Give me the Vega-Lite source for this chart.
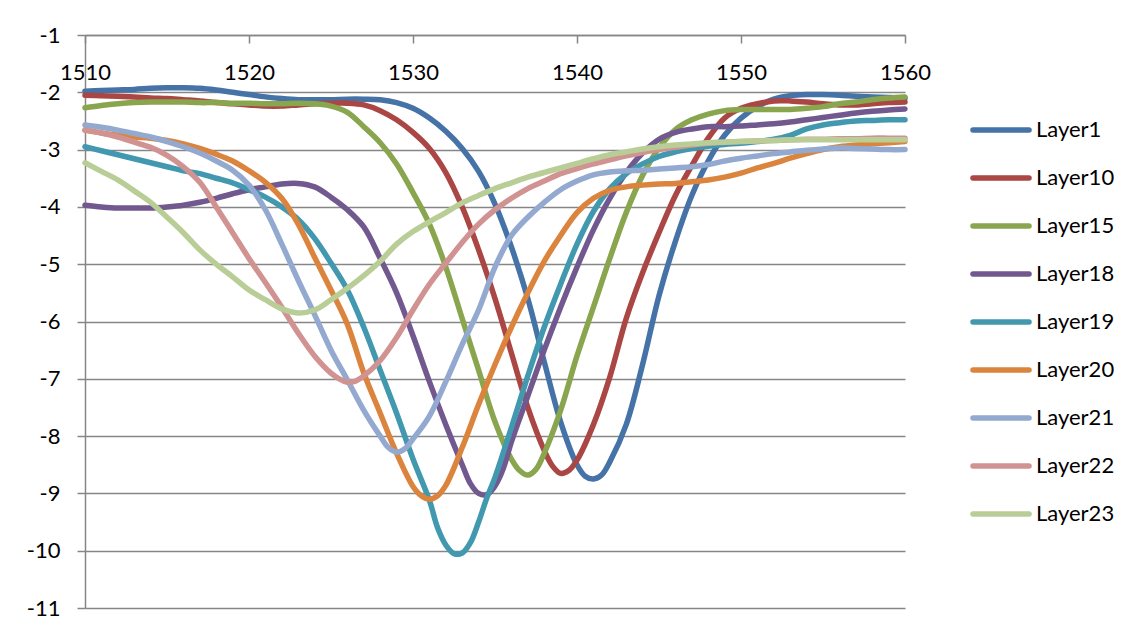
{
  "$schema": "https://vega.github.io/schema/vega-lite/v6.json",
  "width": 820,
  "height": 573,
  "autosize": "none",
  "padding": {"left": 85, "top": 35, "right": 229, "bottom": 26},
  "background": "white",
  "data": {"values": [
    {"w":1510,"Layer1":-1.98,"Layer10":-2.05,"Layer15":-2.27,"Layer18":-3.97,"Layer19":-2.95,"Layer20":-2.66,"Layer21":-2.57,"Layer22":-2.66,"Layer23":-3.23},
    {"w":1511,"Layer1":-1.97,"Layer10":-2.06,"Layer15":-2.23,"Layer18":-4.0,"Layer19":-3.02,"Layer20":-2.71,"Layer21":-2.61,"Layer22":-2.71,"Layer23":-3.38},
    {"w":1512,"Layer1":-1.96,"Layer10":-2.07,"Layer15":-2.2,"Layer18":-4.02,"Layer19":-3.09,"Layer20":-2.75,"Layer21":-2.66,"Layer22":-2.78,"Layer23":-3.53},
    {"w":1513,"Layer1":-1.95,"Layer10":-2.08,"Layer15":-2.18,"Layer18":-4.02,"Layer19":-3.16,"Layer20":-2.78,"Layer21":-2.72,"Layer22":-2.87,"Layer23":-3.72},
    {"w":1514,"Layer1":-1.93,"Layer10":-2.1,"Layer15":-2.17,"Layer18":-4.02,"Layer19":-3.23,"Layer20":-2.8,"Layer21":-2.78,"Layer22":-2.96,"Layer23":-3.92},
    {"w":1515,"Layer1":-1.92,"Layer10":-2.11,"Layer15":-2.17,"Layer18":-4.0,"Layer19":-3.3,"Layer20":-2.84,"Layer21":-2.86,"Layer22":-3.1,"Layer23":-4.18},
    {"w":1516,"Layer1":-1.92,"Layer10":-2.13,"Layer15":-2.17,"Layer18":-3.97,"Layer19":-3.37,"Layer20":-2.9,"Layer21":-2.95,"Layer22":-3.3,"Layer23":-4.45},
    {"w":1517,"Layer1":-1.93,"Layer10":-2.15,"Layer15":-2.18,"Layer18":-3.92,"Layer19":-3.42,"Layer20":-2.98,"Layer21":-3.06,"Layer22":-3.57,"Layer23":-4.75},
    {"w":1518,"Layer1":-1.96,"Layer10":-2.18,"Layer15":-2.18,"Layer18":-3.85,"Layer19":-3.5,"Layer20":-3.08,"Layer21":-3.2,"Layer22":-4.0,"Layer23":-5.0},
    {"w":1519,"Layer1":-2.0,"Layer10":-2.2,"Layer15":-2.19,"Layer18":-3.77,"Layer19":-3.58,"Layer20":-3.2,"Layer21":-3.36,"Layer22":-4.45,"Layer23":-5.22},
    {"w":1520,"Layer1":-2.04,"Layer10":-2.22,"Layer15":-2.19,"Layer18":-3.7,"Layer19":-3.7,"Layer20":-3.37,"Layer21":-3.62,"Layer22":-4.9,"Layer23":-5.45},
    {"w":1521,"Layer1":-2.08,"Layer10":-2.24,"Layer15":-2.2,"Layer18":-3.65,"Layer19":-3.83,"Layer20":-3.57,"Layer21":-4.05,"Layer22":-5.32,"Layer23":-5.62},
    {"w":1522,"Layer1":-2.11,"Layer10":-2.24,"Layer15":-2.2,"Layer18":-3.6,"Layer19":-4.0,"Layer20":-3.85,"Layer21":-4.65,"Layer22":-5.75,"Layer23":-5.78},
    {"w":1523,"Layer1":-2.13,"Layer10":-2.22,"Layer15":-2.19,"Layer18":-3.59,"Layer19":-4.22,"Layer20":-4.3,"Layer21":-5.28,"Layer22":-6.2,"Layer23":-5.85},
    {"w":1524,"Layer1":-2.13,"Layer10":-2.2,"Layer15":-2.2,"Layer18":-3.65,"Layer19":-4.55,"Layer20":-4.88,"Layer21":-5.88,"Layer22":-6.6,"Layer23":-5.8},
    {"w":1525,"Layer1":-2.13,"Layer10":-2.19,"Layer15":-2.24,"Layer18":-3.83,"Layer19":-4.98,"Layer20":-5.45,"Layer21":-6.5,"Layer22":-6.9,"Layer23":-5.62},
    {"w":1525.5,"Layer22":-7.0},
    {"w":1526,"Layer1":-2.12,"Layer10":-2.19,"Layer15":-2.35,"Layer18":-4.05,"Layer19":-5.45,"Layer20":-6.05,"Layer21":-7.02,"Layer22":-7.06,"Layer23":-5.42},
    {"w":1526.5,"Layer22":-7.04},
    {"w":1527,"Layer1":-2.12,"Layer10":-2.22,"Layer15":-2.6,"Layer18":-4.35,"Layer19":-6.1,"Layer20":-6.9,"Layer21":-7.55,"Layer22":-6.95,"Layer23":-5.2},
    {"w":1528,"Layer1":-2.13,"Layer10":-2.32,"Layer15":-2.88,"Layer18":-4.9,"Layer19":-6.85,"Layer20":-7.6,"Layer21":-8.0,"Layer22":-6.68,"Layer23":-4.95},
    {"w":1528.5,"Layer21":-8.2},
    {"w":1529,"Layer1":-2.18,"Layer10":-2.48,"Layer15":-3.25,"Layer18":-5.5,"Layer19":-7.6,"Layer20":-8.3,"Layer21":-8.28,"Layer22":-6.28,"Layer23":-4.65},
    {"w":1529.5,"Layer21":-8.22},
    {"w":1530,"Layer1":-2.28,"Layer10":-2.7,"Layer15":-3.75,"Layer18":-6.25,"Layer19":-8.4,"Layer20":-8.88,"Layer21":-8.05,"Layer22":-5.8,"Layer23":-4.43},
    {"w":1530.5,"Layer20":-9.04},
    {"w":1531,"Layer1":-2.45,"Layer10":-2.98,"Layer15":-4.3,"Layer18":-7.05,"Layer19":-9.12,"Layer20":-9.1,"Layer21":-7.65,"Layer22":-5.35,"Layer23":-4.26},
    {"w":1531.5,"Layer19":-9.6,"Layer20":-9.04},
    {"w":1532,"Layer1":-2.68,"Layer10":-3.4,"Layer15":-5.05,"Layer18":-7.8,"Layer19":-9.9,"Layer20":-8.86,"Layer21":-7.05,"Layer22":-4.98,"Layer23":-4.1},
    {"w":1532.5,"Layer19":-10.05},
    {"w":1533,"Layer1":-2.98,"Layer10":-4.0,"Layer15":-5.95,"Layer18":-8.5,"Layer19":-10.04,"Layer20":-8.2,"Layer21":-6.4,"Layer22":-4.62,"Layer23":-3.93},
    {"w":1533.5,"Layer18":-8.83,"Layer19":-9.86},
    {"w":1534,"Layer1":-3.38,"Layer10":-4.75,"Layer15":-6.85,"Layer18":-9.0,"Layer19":-9.5,"Layer20":-7.45,"Layer21":-5.8,"Layer22":-4.3,"Layer23":-3.8},
    {"w":1534.5,"Layer18":-9.02,"Layer19":-9.08},
    {"w":1535,"Layer1":-3.95,"Layer10":-5.6,"Layer15":-7.75,"Layer18":-8.87,"Layer19":-8.72,"Layer20":-6.75,"Layer21":-5.05,"Layer22":-4.05,"Layer23":-3.68},
    {"w":1535.5,"Layer18":-8.57},
    {"w":1536,"Layer1":-4.7,"Layer10":-6.55,"Layer15":-8.4,"Layer18":-8.1,"Layer19":-7.85,"Layer20":-6.1,"Layer21":-4.5,"Layer22":-3.85,"Layer23":-3.58},
    {"w":1536.5,"Layer15":-8.6},
    {"w":1537,"Layer1":-5.6,"Layer10":-7.5,"Layer15":-8.68,"Layer18":-7.3,"Layer19":-6.95,"Layer20":-5.5,"Layer21":-4.18,"Layer22":-3.68,"Layer23":-3.48},
    {"w":1537.5,"Layer15":-8.58},
    {"w":1538,"Layer1":-6.7,"Layer10":-8.25,"Layer15":-8.3,"Layer18":-6.5,"Layer19":-6.1,"Layer20":-4.95,"Layer21":-3.92,"Layer22":-3.55,"Layer23":-3.4},
    {"w":1538.5,"Layer10":-8.52},
    {"w":1539,"Layer1":-7.75,"Layer10":-8.65,"Layer15":-7.55,"Layer18":-5.75,"Layer19":-5.35,"Layer20":-4.5,"Layer21":-3.7,"Layer22":-3.42,"Layer23":-3.32},
    {"w":1539.5,"Layer10":-8.6},
    {"w":1540,"Layer1":-8.5,"Layer10":-8.42,"Layer15":-6.6,"Layer18":-5.05,"Layer19":-4.65,"Layer20":-4.1,"Layer21":-3.55,"Layer22":-3.33,"Layer23":-3.24},
    {"w":1540.5,"Layer1":-8.7},
    {"w":1541,"Layer1":-8.75,"Layer10":-7.8,"Layer15":-5.75,"Layer18":-4.4,"Layer19":-4.08,"Layer20":-3.85,"Layer21":-3.44,"Layer22":-3.25,"Layer23":-3.16},
    {"w":1541.5,"Layer1":-8.68},
    {"w":1542,"Layer1":-8.45,"Layer10":-6.97,"Layer15":-4.9,"Layer18":-3.85,"Layer19":-3.68,"Layer20":-3.71,"Layer21":-3.39,"Layer22":-3.18,"Layer23":-3.09},
    {"w":1543,"Layer1":-7.8,"Layer10":-5.95,"Layer15":-4.1,"Layer18":-3.4,"Layer19":-3.42,"Layer20":-3.65,"Layer21":-3.37,"Layer22":-3.11,"Layer23":-3.04},
    {"w":1544,"Layer1":-6.75,"Layer10":-5.15,"Layer15":-3.45,"Layer18":-3.06,"Layer19":-3.25,"Layer20":-3.62,"Layer21":-3.36,"Layer22":-3.05,"Layer23":-2.99},
    {"w":1545,"Layer1":-5.55,"Layer10":-4.45,"Layer15":-2.97,"Layer18":-2.82,"Layer19":-3.12,"Layer20":-3.6,"Layer21":-3.34,"Layer22":-3.0,"Layer23":-2.95},
    {"w":1546,"Layer1":-4.6,"Layer10":-3.8,"Layer15":-2.65,"Layer18":-2.7,"Layer19":-3.04,"Layer20":-3.59,"Layer21":-3.32,"Layer22":-2.96,"Layer23":-2.92},
    {"w":1547,"Layer1":-3.8,"Layer10":-3.28,"Layer15":-2.48,"Layer18":-2.64,"Layer19":-2.98,"Layer20":-3.56,"Layer21":-3.3,"Layer22":-2.92,"Layer23":-2.9},
    {"w":1548,"Layer1":-3.2,"Layer10":-2.8,"Layer15":-2.38,"Layer18":-2.6,"Layer19":-2.94,"Layer20":-3.53,"Layer21":-3.26,"Layer22":-2.89,"Layer23":-2.88},
    {"w":1549,"Layer1":-2.75,"Layer10":-2.45,"Layer15":-2.32,"Layer18":-2.6,"Layer19":-2.91,"Layer20":-3.48,"Layer21":-3.2,"Layer22":-2.87,"Layer23":-2.87},
    {"w":1550,"Layer1":-2.45,"Layer10":-2.28,"Layer15":-2.3,"Layer18":-2.59,"Layer19":-2.89,"Layer20":-3.41,"Layer21":-3.15,"Layer22":-2.86,"Layer23":-2.86},
    {"w":1551,"Layer1":-2.25,"Layer10":-2.2,"Layer15":-2.3,"Layer18":-2.57,"Layer19":-2.86,"Layer20":-3.32,"Layer21":-3.11,"Layer22":-2.85,"Layer23":-2.85},
    {"w":1552,"Layer1":-2.12,"Layer10":-2.15,"Layer15":-2.3,"Layer18":-2.55,"Layer19":-2.82,"Layer20":-3.24,"Layer21":-3.07,"Layer22":-2.84,"Layer23":-2.84},
    {"w":1553,"Layer1":-2.06,"Layer10":-2.15,"Layer15":-2.3,"Layer18":-2.52,"Layer19":-2.75,"Layer20":-3.15,"Layer21":-3.04,"Layer22":-2.83,"Layer23":-2.83},
    {"w":1554,"Layer1":-2.04,"Layer10":-2.17,"Layer15":-2.28,"Layer18":-2.48,"Layer19":-2.64,"Layer20":-3.07,"Layer21":-3.01,"Layer22":-2.82,"Layer23":-2.83},
    {"w":1555,"Layer1":-2.04,"Layer10":-2.2,"Layer15":-2.25,"Layer18":-2.44,"Layer19":-2.57,"Layer20":-3.0,"Layer21":-2.99,"Layer22":-2.82,"Layer23":-2.83},
    {"w":1556,"Layer1":-2.05,"Layer10":-2.22,"Layer15":-2.2,"Layer18":-2.4,"Layer19":-2.53,"Layer20":-2.95,"Layer21":-2.97,"Layer22":-2.81,"Layer23":-2.83},
    {"w":1557,"Layer1":-2.07,"Layer10":-2.22,"Layer15":-2.17,"Layer18":-2.36,"Layer19":-2.5,"Layer20":-2.92,"Layer21":-2.98,"Layer22":-2.81,"Layer23":-2.83},
    {"w":1558,"Layer1":-2.08,"Layer10":-2.2,"Layer15":-2.13,"Layer18":-2.33,"Layer19":-2.49,"Layer20":-2.9,"Layer21":-2.99,"Layer22":-2.8,"Layer23":-2.83},
    {"w":1559,"Layer1":-2.09,"Layer10":-2.18,"Layer15":-2.1,"Layer18":-2.31,"Layer19":-2.48,"Layer20":-2.88,"Layer21":-3.0,"Layer22":-2.8,"Layer23":-2.83},
    {"w":1560,"Layer1":-2.1,"Layer10":-2.17,"Layer15":-2.08,"Layer18":-2.29,"Layer19":-2.48,"Layer20":-2.86,"Layer21":-3.0,"Layer22":-2.8,"Layer23":-2.83}
  ]},
  "transform": [
    {"fold": ["Layer1","Layer10","Layer15","Layer18","Layer19","Layer20","Layer21","Layer22","Layer23"], "as": ["series","value"]},
    {"filter": "isValid(datum.value)"}
  ],
  "mark": {"type": "line", "strokeWidth": 5.5, "interpolate": "catmull-rom", "strokeCap": "round", "strokeJoin": "round"},
  "encoding": {
    "x": {
      "field": "w", "type": "quantitative",
      "scale": {"domain": [1510, 1560], "nice": false, "zero": false},
      "axis": {
        "orient": "bottom", "offset": -573, "title": null, "grid": false,
        "values": [1510, 1520, 1530, 1540, 1550, 1560],
        "labelExpr": "toString(datum.value)",
        "domainColor": "#868686", "domainWidth": 1.5,
        "tickColor": "#868686", "tickWidth": 1.5, "tickSize": 8,
        "labelPadding": 19, "labelFont": "Lato", "labelFontSize": 22, "labelColor": "#000000",
        "labelFlush": false, "labelOverlap": false
      }
    },
    "y": {
      "field": "value", "type": "quantitative",
      "scale": {"domain": [-11, -1], "nice": false, "zero": false},
      "axis": {
        "title": null, "grid": true,
        "values": [-11, -10, -9, -8, -7, -6, -5, -4, -3, -2, -1],
        "labelExpr": "toString(datum.value)",
        "gridColor": "#868686", "gridWidth": 1.5,
        "domainColor": "#868686", "domainWidth": 1.5,
        "tickColor": "#868686", "tickWidth": 1.5, "tickSize": 8,
        "labelPadding": 17, "labelFont": "Lato", "labelFontSize": 22, "labelColor": "#000000",
        "labelFlush": false, "labelOverlap": false
      }
    },
    "color": {
      "field": "series", "type": "nominal",
      "scale": {
        "domain": ["Layer1","Layer10","Layer15","Layer18","Layer19","Layer20","Layer21","Layer22","Layer23"],
        "range": ["#4572A7","#AA4643","#89A54E","#71588F","#4198AF","#DB843D","#93A9CF","#D19392","#B9CD96"]
      },
      "legend": {
        "orient": "none", "legendX": 899, "legendY": 78, "title": null, "padding": 0,
        "symbolType": "M-2,0H2", "symbolSize": 784, "symbolStrokeWidth": 5.5,
        "labelFont": "Lato", "labelFontSize": 22, "labelColor": "#000000",
        "labelOffset": 18, "rowPadding": 20, "labelLimit": 200,
        "encode": {"symbols": {"update": {"strokeCap": {"value": "round"}}}}
      }
    }
  },
  "config": {"view": {"stroke": null}, "font": "Lato"}
}
